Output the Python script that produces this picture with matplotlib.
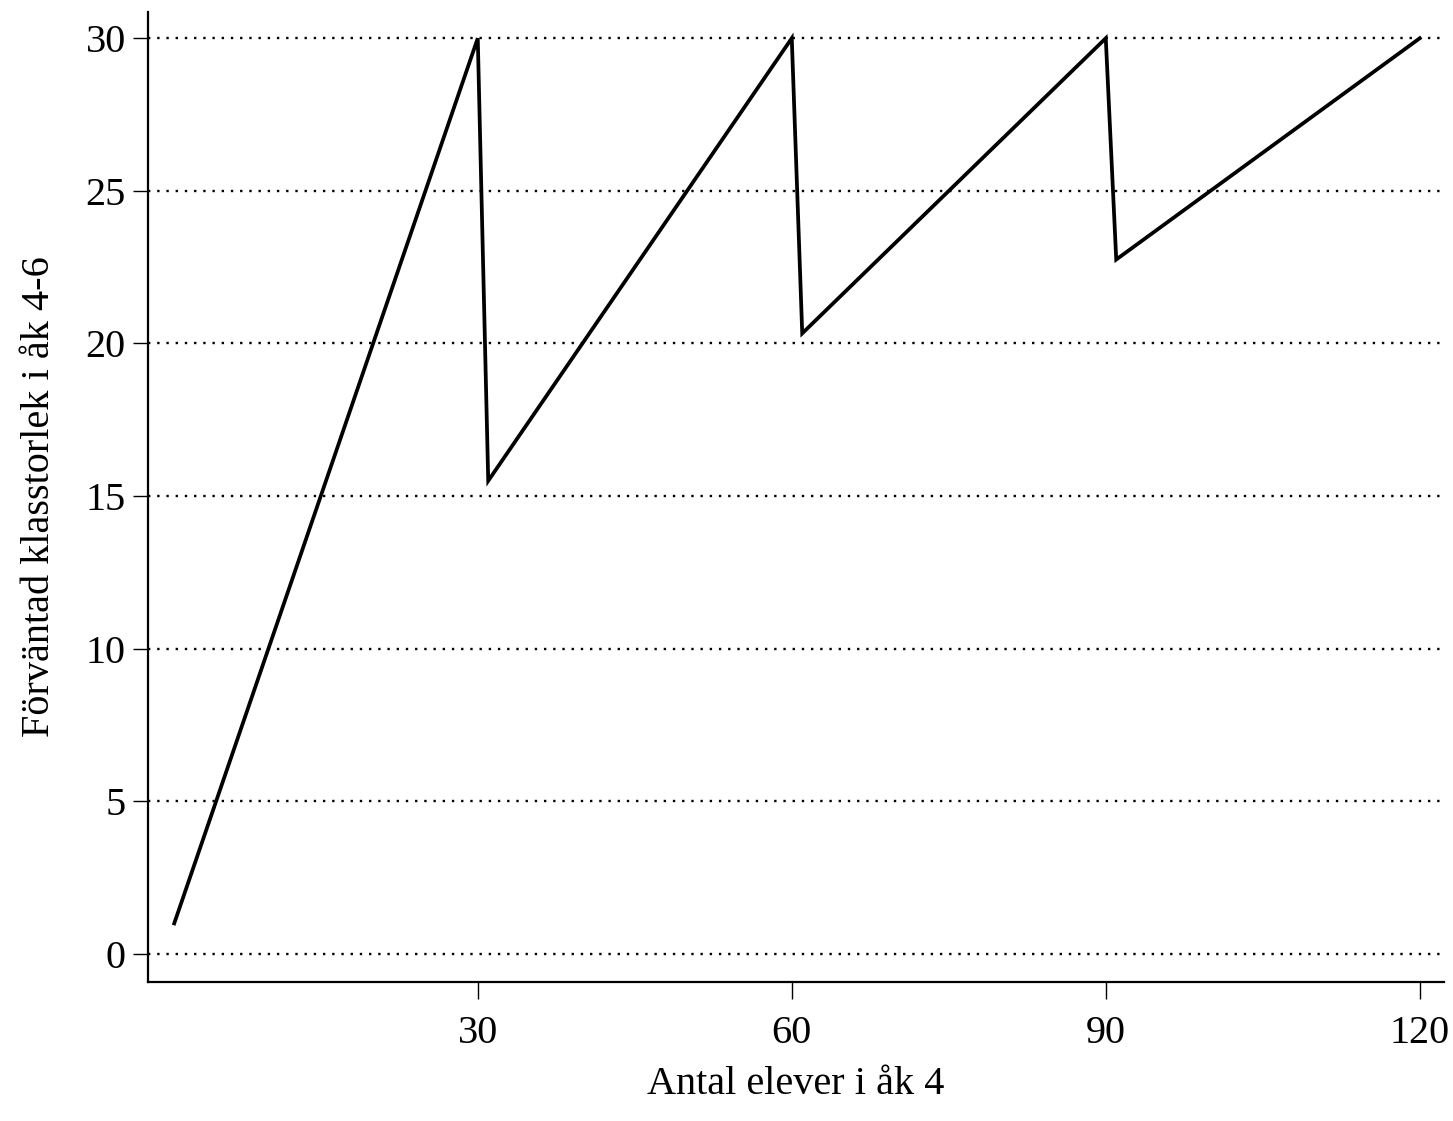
import matplotlib
matplotlib.use("Agg")
import matplotlib.pyplot as plt

# Expected class size in grade 4-6 vs number of pupils in grade 4 (breakpoints)
pupils = [1, 30, 31, 60, 61, 90, 91, 120]
class_size = [1, 30, 15.5, 30, 20.33, 30, 22.75, 30]

x_ticks = [30, 60, 90, 120]
y_ticks = [0, 5, 10, 15, 20, 25, 30]

plt.rcParams['font.family'] = ['Liberation Serif', 'DejaVu Serif']

fig = plt.figure(figsize=(14.53, 11.21), dpi=100)
ax = fig.add_axes([0.1019, 0.124, 0.8918, 0.8653])

ax.plot(pupils, class_size, color='black', linewidth=2.7, solid_joinstyle='miter')

ax.set_xlim(-1.5, 122.3)
ax.set_ylim(-0.92, 30.86)
ax.set_xticks(x_ticks)
ax.set_yticks(y_ticks)

for y in y_ticks:
    ax.axhline(y, color='black', linewidth=1.7, linestyle=(0, (1, 2.9)), zorder=0)

for side in ['top', 'right']:
    ax.spines[side].set_visible(False)
for side in ['left', 'bottom']:
    ax.spines[side].set_linewidth(1.6)

ax.tick_params(axis='y', length=11, width=1, pad=5, labelsize=29)
ax.tick_params(axis='x', length=12, width=1, pad=12, labelsize=29)

ax.set_xlabel("Antal elever i åk 4", fontsize=29, labelpad=10)
ax.set_ylabel("Förväntad klasstorlek i åk 4-6", fontsize=29, labelpad=20)

fig.savefig("out.png", dpi=100)
